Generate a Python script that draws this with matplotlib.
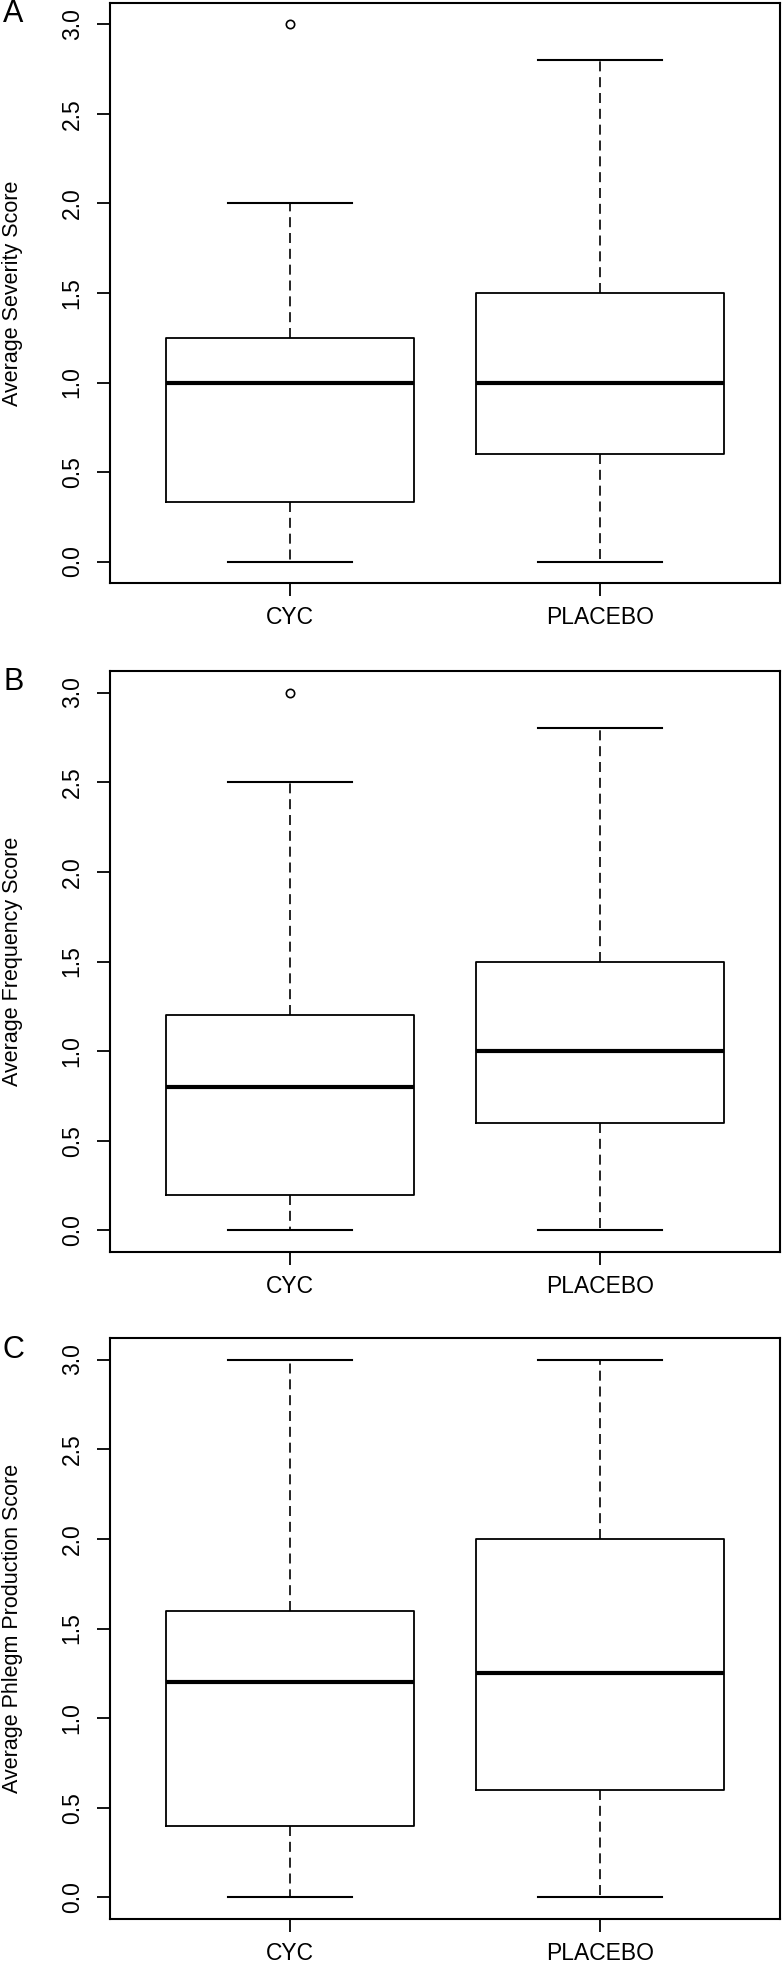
import matplotlib
matplotlib.use("Agg")
import matplotlib.pyplot as plt

plt.rcParams['font.family'] = ['Liberation Sans', 'DejaVu Sans']

groups = ["CYC", "PLACEBO"]
panel_letters = ["A", "B", "C"]
ylabels = ["Average Severity Score", "Average Frequency Score", "Average Phlegm Production Score"]

# [whislo, q1, median, q3, whishi] for CYC and PLACEBO
severity_cyc = [0.0, 0.33, 1.0, 1.25, 2.0]
severity_pla = [0.0, 0.6, 1.0, 1.5, 2.8]
severity_out = [[3.0], []]

frequency_cyc = [0.0, 0.2, 0.8, 1.2, 2.5]
frequency_pla = [0.0, 0.6, 1.0, 1.5, 2.8]
frequency_out = [[3.0], []]

phlegm_cyc = [0.0, 0.4, 1.2, 1.6, 3.0]
phlegm_pla = [0.0, 0.6, 1.25, 2.0, 3.0]
phlegm_out = [[], []]

yticks = [0.0, 0.5, 1.0, 1.5, 2.0, 2.5, 3.0]

panels = [
    (severity_cyc, severity_pla, severity_out),
    (frequency_cyc, frequency_pla, frequency_out),
    (phlegm_cyc, phlegm_pla, phlegm_out),
]

W, H = 784, 1966
fig = plt.figure(figsize=(W / 100, H / 100), dpi=100)

frames = [(3, 583), (671, 1252), (1338, 1919)]
left_px, right_px = 110, 780

FS = 16.5
FS_LAB = 15.5
for i, ((c, p, outs), (top, bot)) in enumerate(zip(panels, frames)):
    ax = fig.add_axes([left_px / W, 1 - bot / H, (right_px - left_px) / W, (bot - top) / H])
    stats = []
    for name, v, o in zip(groups, [c, p], outs):
        stats.append(dict(label=name, whislo=v[0], q1=v[1], med=v[2], q3=v[3], whishi=v[4], fliers=o))
    ax.bxp(stats, positions=[1, 2], widths=0.8, showfliers=True, patch_artist=False,
           boxprops=dict(color='black', linewidth=1.3),
           whiskerprops=dict(color='black', linewidth=1.2, linestyle=(0, (6, 3.5))),
           capprops=dict(color='black', linewidth=1.5),
           medianprops=dict(color='black', linewidth=3.0, solid_capstyle='butt'),
           flierprops=dict(marker='o', markerfacecolor='none', markeredgecolor='black',
                           markersize=6, markeredgewidth=1.2),
           capwidths=0.4)
    ax.set_xlim(0.42, 2.58)
    ax.set_ylim(-0.12, 3.12)
    ax.set_yticks(yticks)
    ax.set_yticklabels([f"{t:.1f}" for t in yticks], rotation=90, va='center', fontsize=FS)
    ax.set_xticks([1, 2])
    ax.set_xticklabels(groups, fontsize=FS)
    ax.tick_params(axis='both', length=9.4, width=1.3, direction='out')
    ax.tick_params(axis='y', pad=9.5)
    ax.tick_params(axis='x', pad=7.5)
    for s in ax.spines.values():
        s.set_linewidth(1.5)
    ax.set_ylabel(ylabels[i], fontsize=FS_LAB)
    ax.yaxis.set_label_coords((23 - left_px) / (right_px - left_px), 0.5)
    fig.text(3 / W, 1 - (top - 3.5) / H, panel_letters[i], fontsize=22, ha='left', va='top')

fig.savefig("out.png", dpi=100)
